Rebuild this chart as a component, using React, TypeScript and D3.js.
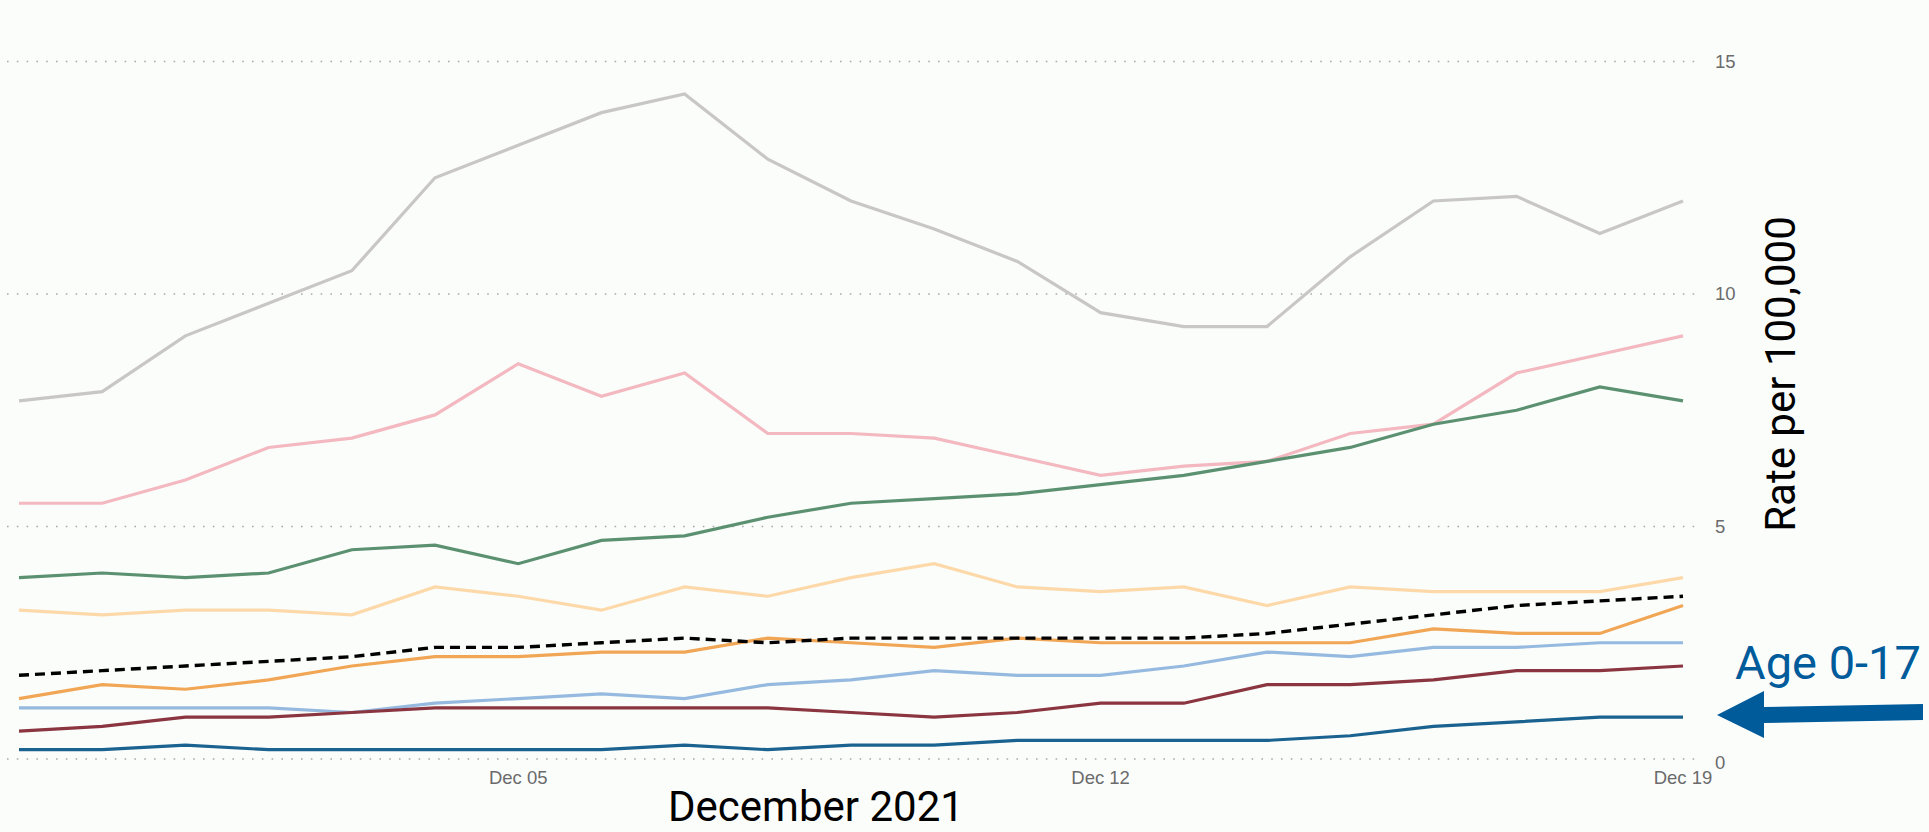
import React from "react";
import * as d3 from "d3";

const dates: string[] = [
  "2021-11-29", "2021-11-30", "2021-12-01", "2021-12-02", "2021-12-03", "2021-12-04", "2021-12-05",
  "2021-12-06", "2021-12-07", "2021-12-08", "2021-12-09", "2021-12-10", "2021-12-11", "2021-12-12",
  "2021-12-13", "2021-12-14", "2021-12-15", "2021-12-16", "2021-12-17", "2021-12-18", "2021-12-19",
];

const greySeries = [7.7, 7.9, 9.1, 9.8, 10.5, 12.5, 13.2, 13.9, 14.3, 12.9, 12.0, 11.4, 10.7, 9.6, 9.3, 9.3, 10.8, 12.0, 12.1, 11.3, 12.0];
const pinkSeries = [5.5, 5.5, 6.0, 6.7, 6.9, 7.4, 8.5, 7.8, 8.3, 7.0, 7.0, 6.9, 6.5, 6.1, 6.3, 6.4, 7.0, 7.2, 8.3, 8.7, 9.1];
const greenSeries = [3.9, 4.0, 3.9, 4.0, 4.5, 4.6, 4.2, 4.7, 4.8, 5.2, 5.5, 5.6, 5.7, 5.9, 6.1, 6.4, 6.7, 7.2, 7.5, 8.0, 7.7];
const peachSeries = [3.2, 3.1, 3.2, 3.2, 3.1, 3.7, 3.5, 3.2, 3.7, 3.5, 3.9, 4.2, 3.7, 3.6, 3.7, 3.3, 3.7, 3.6, 3.6, 3.6, 3.9];
const orangeSeries = [1.3, 1.6, 1.5, 1.7, 2.0, 2.2, 2.2, 2.3, 2.3, 2.6, 2.5, 2.4, 2.6, 2.5, 2.5, 2.5, 2.5, 2.8, 2.7, 2.7, 3.3];
const lightBlueSeries = [1.1, 1.1, 1.1, 1.1, 1.0, 1.2, 1.3, 1.4, 1.3, 1.6, 1.7, 1.9, 1.8, 1.8, 2.0, 2.3, 2.2, 2.4, 2.4, 2.5, 2.5];
const darkRedSeries = [0.6, 0.7, 0.9, 0.9, 1.0, 1.1, 1.1, 1.1, 1.1, 1.1, 1.0, 0.9, 1.0, 1.2, 1.2, 1.6, 1.6, 1.7, 1.9, 1.9, 2.0];
const age017Series = [0.2, 0.2, 0.3, 0.2, 0.2, 0.2, 0.2, 0.2, 0.3, 0.2, 0.3, 0.3, 0.4, 0.4, 0.4, 0.4, 0.5, 0.7, 0.8, 0.9, 0.9];
const overallSeries = [1.8, 1.9, 2.0, 2.1, 2.2, 2.4, 2.4, 2.5, 2.6, 2.5, 2.6, 2.6, 2.6, 2.6, 2.6, 2.7, 2.9, 3.1, 3.3, 3.4, 3.5];

const yTicks = [0, 5, 10, 15];
const xTickDates = ["2021-12-05", "2021-12-12", "2021-12-19"];
const xTickLabels = ["Dec 05", "Dec 12", "Dec 19"];

const W = 1929;
const H = 832;

export default function App() {
  const parse = d3.utcParse("%Y-%m-%d");
  const dts = dates.map((d) => parse(d) as Date);
  const x = d3.scaleUtc().domain([dts[0], dts[dts.length - 1]]).range([19, 1683]);
  const y = d3.scaleLinear().domain([0, 15]).range([759, 61.5]);

  const line = d3
    .line<number>()
    .x((_, i) => x(dts[i]))
    .y((v) => y(v));

  const series = [
    { values: greySeries, color: "#c9c7c5", dash: undefined, w: 3.2 },
    { values: pinkSeries, color: "#f3b8c0", dash: undefined, w: 3.2 },
    { values: greenSeries, color: "#5b9170", dash: undefined, w: 3.2 },
    { values: peachSeries, color: "#fdd9aa", dash: undefined, w: 3.2 },
    { values: orangeSeries, color: "#f1a655", dash: undefined, w: 3.2 },
    { values: lightBlueSeries, color: "#96badf", dash: undefined, w: 3.2 },
    { values: darkRedSeries, color: "#8a3540", dash: undefined, w: 3.2 },
    { values: age017Series, color: "#1a628f", dash: undefined, w: 3.2 },
    { values: overallSeries, color: "#000000", dash: "10,6", w: 3.4 },
  ];

  const arrow = "M1717,715 L1764,691 L1764,707 L1923,704 L1923,720 L1764,723 L1764,738 Z";

  return (
    <svg
      width={W}
      height={H}
      style={{ position: "absolute", left: 0, top: 0, background: "#fbfdfb" }}
    >
      <rect x={0} y={0} width={W} height={H} fill="#fbfdfb" />
      {yTicks.map((t) => (
        <g key={t}>
          <line
            x1={7}
            x2={1700}
            y1={y(t)}
            y2={y(t)}
            stroke="#a9a9a9"
            strokeWidth={1.6}
            strokeDasharray="1.6,8.2"
          />
          <text
            x={1715}
            y={y(t) + (t === 0 ? 4 : 0)}
            dy="0.35em"
            fontFamily="'Liberation Sans', Arial, sans-serif"
            fontSize={18.5}
            fill="#6b6b6b"
          >
            {t}
          </text>
        </g>
      ))}
      {xTickDates.map((d, i) => (
        <text
          key={d}
          x={x(parse(d) as Date)}
          y={784}
          textAnchor="middle"
          fontFamily="'Liberation Sans', Arial, sans-serif"
          fontSize={18.5}
          fill="#6b6b6b"
        >
          {xTickLabels[i]}
        </text>
      ))}
      {series.map((s, i) => (
        <path
          key={i}
          d={line(s.values) || ""}
          fill="none"
          stroke={s.color}
          strokeWidth={s.w}
          strokeDasharray={s.dash}
          strokeLinejoin="miter"
        />
      ))}
      <text
        x={668}
        y={821}
        fontFamily="Roboto, sans-serif"
        fontSize={42}
        fill="#000"
      >
        December 2021
      </text>
      <text
        transform="translate(1795,374) rotate(-90)"
        textAnchor="middle"
        fontFamily="Roboto, sans-serif"
        fontSize={42}
        fill="#000"
      >
        Rate per 100,000
      </text>
      <text
        x={1735}
        y={679}
        fontFamily="Roboto, sans-serif"
        fontSize={47}
        fill="#005b9b"
      >
        Age 0-17
      </text>
      <path d={arrow} fill="#005b9b" />
    </svg>
  );
}
